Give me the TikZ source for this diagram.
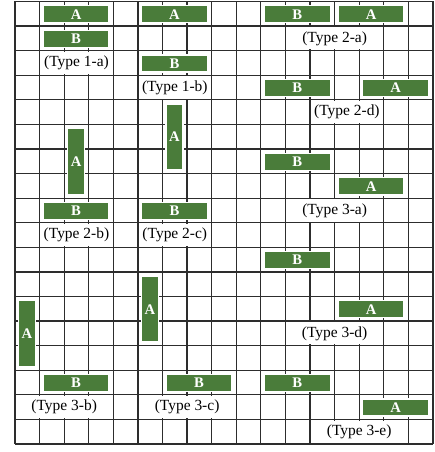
\documentclass[tikz,border=0pt]{standalone}
\usepackage{fontspec}
\setmainfont{Liberation Serif}
\definecolor{boxgreen}{RGB}{74,124,58}
\definecolor{gridgray}{RGB}{45,45,45}
\begin{document}
\begin{tikzpicture}[x=18.44pt,y=-18.44pt,
  gridline/.style={draw=gridgray,line width=0.9pt},
  boxbase/.style={rectangle,fill=boxgreen,draw=white,line width=1pt,inner sep=0pt,
    text=white,font=\fontsize{11}{12}\selectfont\bfseries},
  hbox/.style={boxbase,minimum width=49.5pt,minimum height=12.8pt},
  vbox/.style={boxbase,minimum width=12.6pt,minimum height=49.5pt},
  lblbase/.style={rectangle,fill=white,inner sep=0pt,minimum height=16.6pt,
    font=\fontsize{11.6}{13}\selectfont},
  lblthree/.style={lblbase,minimum width=53.5pt},
  lblfour/.style={lblbase,minimum width=71.9pt}]
\useasboundingbox (-0.61,-0.06) rectangle (17.08,18.325);
\foreach \c in {0,...,17} {\draw[gridline] (\c,0) -- (\c,18);}
\foreach \r in {0,...,18} {\draw[gridline] (0,\r) -- (17,\r);}
% Type 1-a
\node[hbox] (a1a) at (2.485,0.52) {A};
\node[hbox] (b1a) at (2.485,1.52) {B};
\node[lblthree] (t1a) at (2.5,2.5) {(Type 1-a)};
% Type 1-b
\node[hbox] (a1b) at (6.485,0.52) {A};
\node[hbox] (b1b) at (6.485,2.52) {B};
\node[lblthree] (t1b) at (6.5,3.5) {(Type 1-b)};
% Type 2-a
\node[hbox] (b2a) at (11.485,0.52) {B};
\node[hbox] (a2a) at (14.485,0.52) {A};
\node[lblfour] (t2a) at (13,1.5) {(Type 2-a)};
% Type 2-d
\node[hbox] (b2d) at (11.485,3.52) {B};
\node[hbox] (a2d) at (15.485,3.52) {A};
\node[lblthree] (t2d) at (13.5,4.5) {(Type 2-d)};
% Type 2-b
\node[vbox] (a2b) at (2.485,6.515) {A};
\node[hbox] (b2b) at (2.485,8.52) {B};
\node[lblthree] (t2b) at (2.5,9.5) {(Type 2-b)};
% Type 2-c
\node[vbox] (a2c) at (6.485,5.515) {A};
\node[hbox] (b2c) at (6.485,8.52) {B};
\node[lblthree] (t2c) at (6.5,9.5) {(Type 2-c)};
% Type 3-a
\node[hbox] (b3a) at (11.485,6.52) {B};
\node[hbox] (a3a) at (14.485,7.52) {A};
\node[lblfour] (t3a) at (13,8.5) {(Type 3-a)};
% Type 3-d
\node[hbox] (b3d) at (11.485,10.52) {B};
\node[hbox] (a3d) at (14.485,12.52) {A};
\node[lblfour] (t3d) at (13,13.5) {(Type 3-d)};
% Type 3-b
\node[vbox] (a3b) at (0.485,13.515) {A};
\node[hbox] (b3b) at (2.485,15.52) {B};
\node[lblfour] (t3b) at (2,16.5) {(Type 3-b)};
% Type 3-c
\node[vbox] (a3c) at (5.485,12.515) {A};
\node[hbox] (b3c) at (7.485,15.52) {B};
\node[lblfour] (t3c) at (7,16.5) {(Type 3-c)};
% Type 3-e
\node[hbox] (b3e) at (11.485,15.52) {B};
\node[hbox] (a3e) at (15.485,16.52) {A};
\node[lblfour] (t3e) at (14,17.5) {(Type 3-e)};
\end{tikzpicture}
\end{document}
